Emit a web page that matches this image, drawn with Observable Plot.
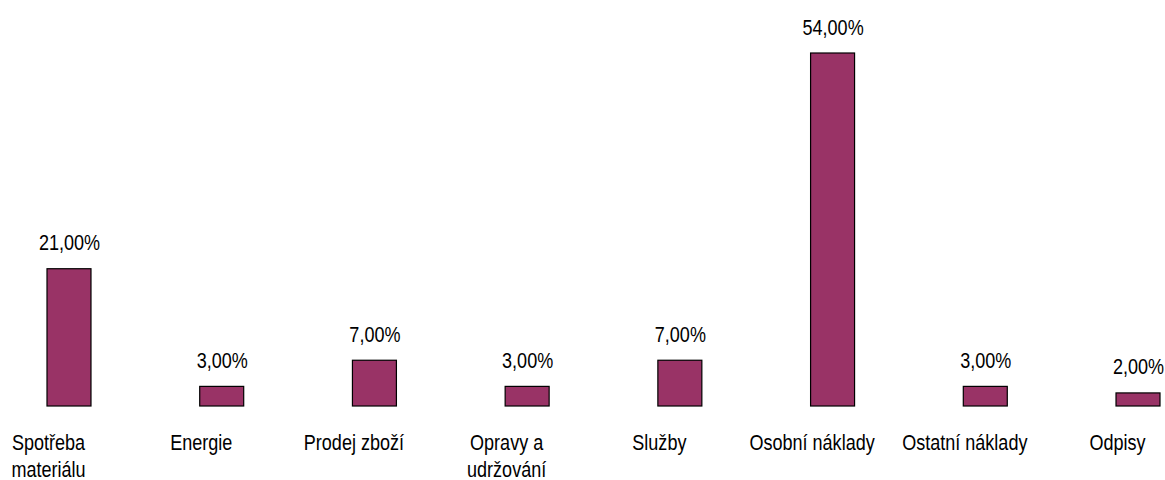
<!DOCTYPE html>
<html><head><meta charset="utf-8">
<script src="https://cdn.jsdelivr.net/npm/d3@7"></script>
<script src="https://cdn.jsdelivr.net/npm/@observablehq/plot@0.6"></script>
<style>html,body{margin:0;padding:0;background:#fff}</style>
</head><body><div id="chart"></div>
<script>
const categories = ["Spotřeba materiálu","Energie","Prodej zboží","Opravy a udržování","Služby","Osobní náklady","Ostatní náklady","Odpisy"];
const tickLabels = ["Spotřeba\nmateriálu","Energie","Prodej zboží","Opravy a\nudržování","Služby","Osobní náklady","Ostatní náklady","Odpisy"];
const values = [21,3,7,3,7,54,3,2];
const data = categories.map((c,i)=>({category:c, value:values[i]}));
const font = '"Liberation Sans", Arial, sans-serif';
const chart = Plot.plot({
  width:1165, height:480, marginLeft:47, marginRight:5, marginTop:53, marginBottom:74,
  style:{fontFamily:font, fontSize:"22px", color:"#000", background:"#fff"},
  x:{domain:categories, paddingInner:0.712, paddingOuter:0, align:0.5, round:false, label:null},
  y:{domain:[0,54], axis:null},
  marks:[
    Plot.barY(data,{x:"category", y:"value", fill:"#993366", stroke:"#000", strokeWidth:1.2}),
    Plot.text(data,{x:"category", y:"value", text:d=>d.value.toFixed(2).replace(".",",")+"%", dy:-19, lineAnchor:"bottom", fontSize:22, fill:"#000"}),
    Plot.axisX({tickSize:0, tickPadding:25, dx:-21, label:null, tickFormat:d=>tickLabels[categories.indexOf(d)], fontSize:22, lineHeight:1.2, fill:"#000"})
  ]
});
// condense glyphs horizontally to mimic a narrow face, keeping each text's anchor
chart.querySelectorAll("text").forEach(t=>{
  const tr = t.getAttribute("transform") || "";
  t.setAttribute("transform", tr + " scale(0.82,1)");
});
document.getElementById("chart").appendChild(chart);
</script></body></html>
